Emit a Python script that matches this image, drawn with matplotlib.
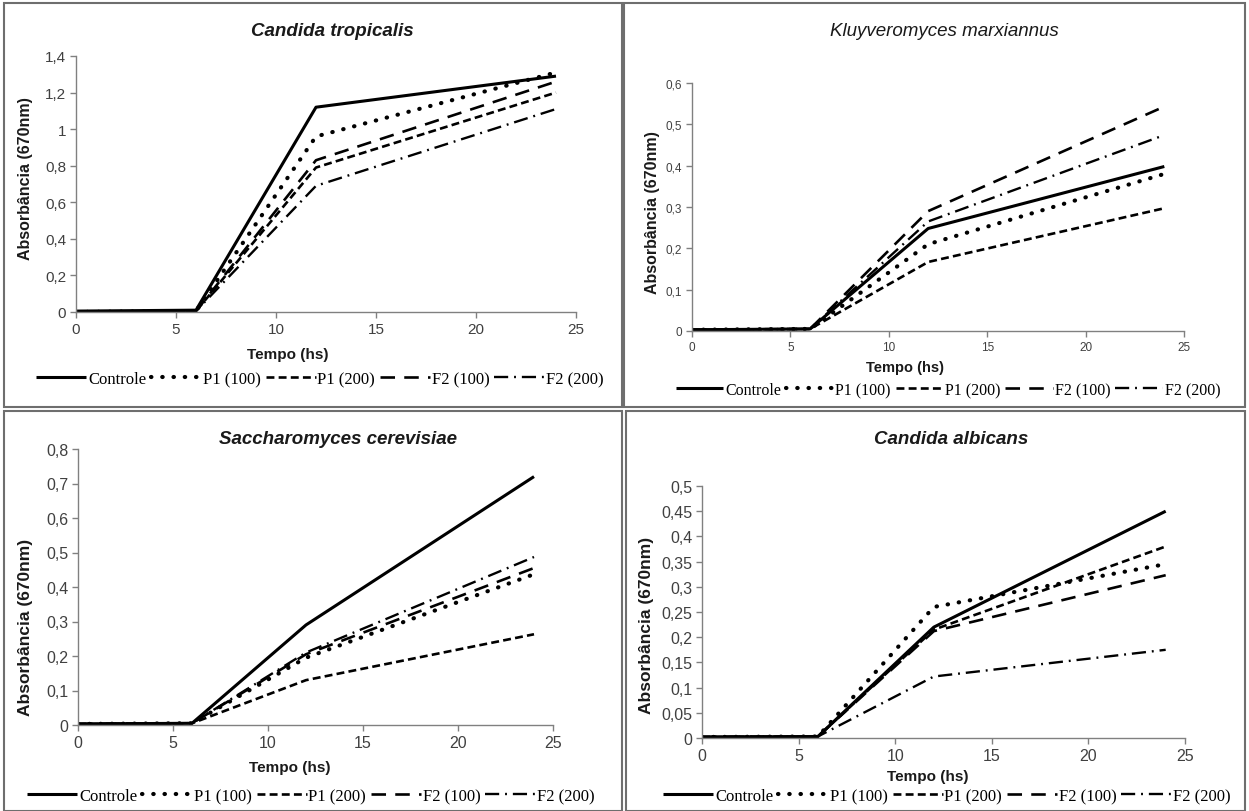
import matplotlib
matplotlib.use("Agg")
import matplotlib.pyplot as plt
from matplotlib.lines import Line2D
from matplotlib.patches import Rectangle

# ---- data ----
tempo = [0, 6, 12, 24]
series_names = ["Controle", "P1 (100)", "P1 (200)", "F2 (100)", "F2 (200)"]

tropicalis = {
    "Controle": [0.005, 0.01, 1.12, 1.29],
    "P1 (100)": [0.0, 0.005, 0.96, 1.31],
    "P1 (200)": [0.0, 0.005, 0.79, 1.20],
    "F2 (100)": [0.0, 0.005, 0.83, 1.26],
    "F2 (200)": [0.0, 0.005, 0.69, 1.11],
}
marxiannus = {
    "Controle": [0.003, 0.005, 0.248, 0.398],
    "P1 (100)": [0.003, 0.005, 0.21, 0.38],
    "P1 (200)": [0.003, 0.005, 0.167, 0.297],
    "F2 (100)": [0.003, 0.005, 0.29, 0.543],
    "F2 (200)": [0.003, 0.005, 0.265, 0.474],
}
cerevisiae = {
    "Controle": [0.003, 0.005, 0.29, 0.72],
    "P1 (100)": [0.003, 0.005, 0.195, 0.437],
    "P1 (200)": [0.003, 0.005, 0.13, 0.263],
    "F2 (100)": [0.003, 0.005, 0.205, 0.455],
    "F2 (200)": [0.003, 0.005, 0.21, 0.487],
}
albicans = {
    "Controle": [0.002, 0.003, 0.22, 0.45],
    "P1 (100)": [0.002, 0.003, 0.26, 0.345],
    "P1 (200)": [0.002, 0.003, 0.215, 0.38],
    "F2 (100)": [0.002, 0.003, 0.212, 0.323],
    "F2 (200)": [0.002, 0.003, 0.122, 0.175],
}

W, H = 1249, 812
fig = plt.figure(figsize=(W / 100, H / 100), dpi=100)
fig.patch.set_facecolor("white")

styles = {
    "Controle": dict(linestyle="-", linewidth=2.2),
    "P1 (100)": dict(linestyle=(0, (0.1, 2.6)), linewidth=3.0, dash_capstyle="round"),
    "P1 (200)": dict(linestyle=(0, (3.0, 1.6)), linewidth=1.9),
    "F2 (100)": dict(linestyle=(0, (5.5, 3.5)), linewidth=1.9),
    "F2 (200)": dict(linestyle=(0, (6.0, 2.5, 0.8, 2.5)), linewidth=1.7),
}


def fx(px):
    return px / W


def fy(py):
    return 1 - py / H


def panel(data, box, ylim, ystep, fmt, tick_fs, title, title_pos, title_weight,
          ylab_pos, xlab_pos, leg_pos, ylab_fs, xlab_fs, leg_fs):
    x0, x1, y0, y1 = box  # pixel coords: x of 0, x of 25, y of 0, y of ymax
    ax = fig.add_axes([fx(x0), fy(y0), (x1 - x0) / W, (y0 - y1) / H])
    for name in series_names:
        ax.plot(tempo, data[name], color="black", solid_capstyle="butt", **styles[name])
    ax.set_xlim(0, 25)
    ax.set_ylim(0, ylim)
    ax.set_xticks(range(0, 26, 5))
    n = int(round(ylim / ystep))
    yt = [i * ystep for i in range(n + 1)]
    ax.set_yticks(yt)
    ax.set_yticklabels([fmt(v) for v in yt])
    for s in ["top", "right"]:
        ax.spines[s].set_visible(False)
    for s in ["left", "bottom"]:
        ax.spines[s].set_color("#808080")
        ax.spines[s].set_linewidth(1.0)
    ax.tick_params(direction="out", length=4, width=1.0, color="#808080",
                   labelsize=tick_fs, labelcolor="#404040", pad=3)
    for t in ax.get_xticklabels() + ax.get_yticklabels():
        t.set_fontfamily("Liberation Sans")
    ax.patch.set_alpha(0)

    fig.text(fx(title_pos[0]), fy(title_pos[1]), title, ha="center", va="center",
             fontsize=13.5, fontstyle="italic", fontweight=title_weight,
             family="Liberation Sans", color="#1a1a1a")
    fig.text(fx(ylab_pos[0]), fy(ylab_pos[1]), "Absorbância (670nm)", rotation=90,
             ha="center", va="center", fontsize=ylab_fs, fontweight="bold",
             family="Liberation Sans", color="#1a1a1a")
    fig.text(fx(xlab_pos[0]), fy(xlab_pos[1]), "Tempo (hs)", ha="center", va="center",
             fontsize=xlab_fs, fontweight="bold", family="Liberation Sans", color="#1a1a1a")

    handles = [Line2D([0], [0], color="black", solid_capstyle="butt", **styles[n_])
               for n_ in series_names]
    fig.legend(handles, series_names, loc="center",
               bbox_to_anchor=(fx(leg_pos[0]), fy(leg_pos[1])),
               bbox_transform=fig.transFigure, ncol=5, frameon=False,
               handlelength=3.0, handletextpad=0.1, columnspacing=0.3,
               borderpad=0, prop={"family": "Liberation Serif", "size": leg_fs})
    return ax


def comma(nd):
    def f(v):
        s = ("%." + str(nd) + "f") % v
        s = s.rstrip("0").rstrip(".") if "." in s else s
        return s.replace(".", ",")
    return f


panel(tropicalis, (76, 576, 313, 57), 1.4, 0.2, comma(1), 11,
      "Candida tropicalis", (332, 32), "bold", (26, 179), (288, 355), (320, 380),
      11.5, 11, 12)
panel(marxiannus, (692, 1184, 332, 84), 0.6, 0.1, comma(1), 8.5,
      "Kluyveromyces marxiannus", (944, 32), "normal", (652, 213), (905, 368), (948, 391),
      11.5, 10.5, 11.5)
panel(cerevisiae, (78, 553, 726, 450), 0.8, 0.1, comma(1), 11.5,
      "Saccharomyces cerevisiae", (338, 440), "bold", (26, 627), (290, 768), (311, 797),
      12.5, 11, 12)
panel(albicans, (702, 1185, 739, 487), 0.5, 0.05, comma(2), 11.5,
      "Candida albicans", (951, 440), "bold", (647, 625), (928, 777), (947, 797),
      12.5, 11, 12)

# panel frames
frames = [(4, 4, 622, 408), (624, 4, 1245, 408), (4, 412, 622, 812), (626, 412, 1245, 812)]
for (a, b, c, d) in frames:
    fig.add_artist(Rectangle((fx(a), fy(d)), (c - a) / W, (d - b) / H,
                             transform=fig.transFigure, fill=False,
                             edgecolor="#6e6e6e", linewidth=1.5))

plt.savefig("out.png", dpi=100, facecolor="white")
